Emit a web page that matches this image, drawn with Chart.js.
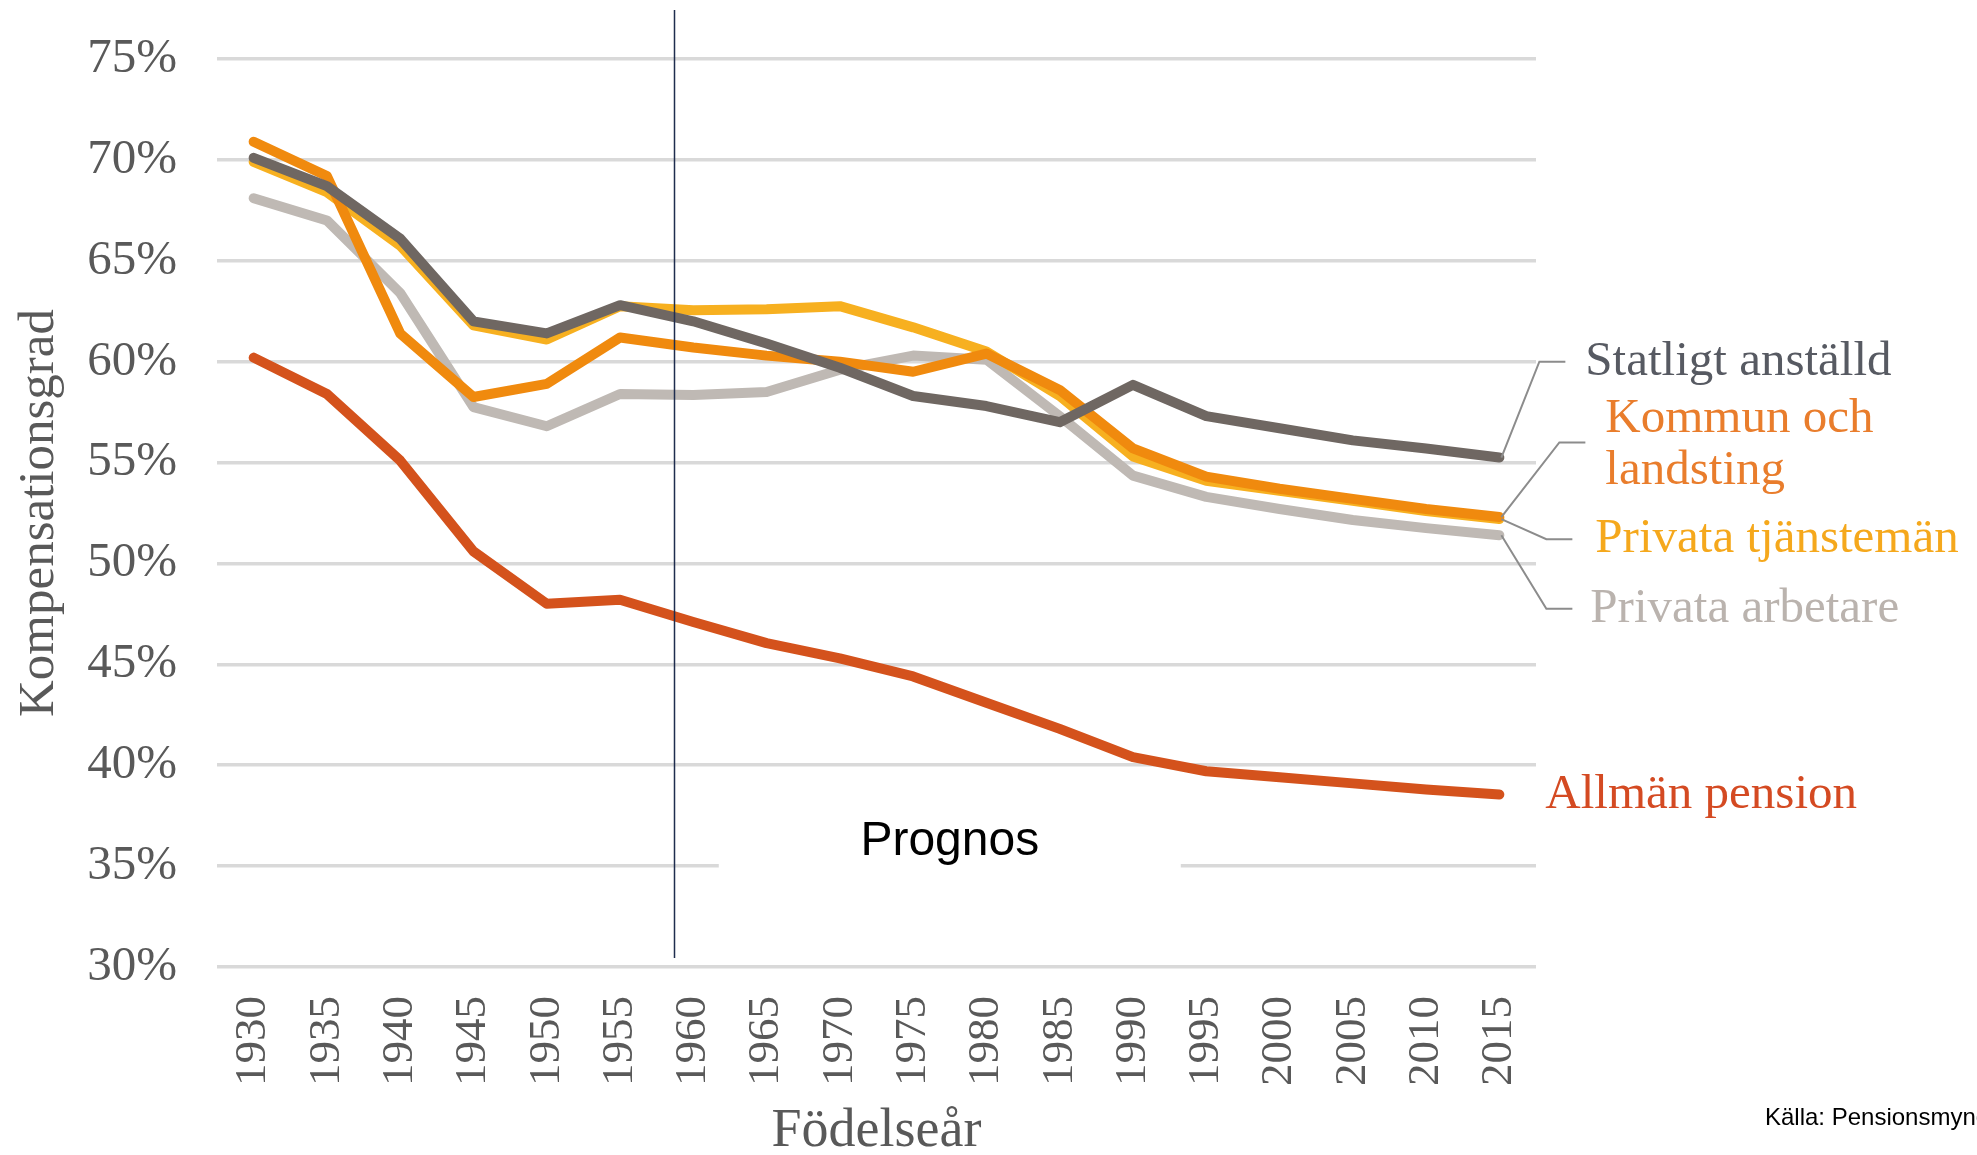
<!DOCTYPE html>
<html>
<head>
<meta charset="utf-8">
<script src="https://cdn.jsdelivr.net/npm/chart.js@4.4.0/dist/chart.umd.min.js"></script>
<style>
    html, body { margin: 0; padding: 0; background: #ffffff; }
    #contenedor { width: 1977px; height: 1155px; }
</style>
</head>
<body>
<div id="contenedor"><canvas id="grafico" width="1977" height="1155"></canvas></div>
<script>
// DATOS
const anios = ['1930', '1935', '1940', '1945', '1950', '1955', '1960', '1965', '1970',
               '1975', '1980', '1985', '1990', '1995', '2000', '2005', '2010', '2015'];

const statligtAnstalld = [70.1, 68.7, 66.1, 62.0, 61.4, 62.8, 62.0, 60.9, 59.7, 58.3, 57.8, 57.0, 58.85, 57.3, 56.7, 56.1, 55.7, 55.25];
const kommunLandsting  = [70.9, 69.2, 61.4, 58.25, 58.9, 61.2, 60.7, 60.3, 60.0, 59.5, 60.4, 58.6, 55.7, 54.3, 53.7, 53.2, 52.7, 52.3];
const privataTjanstem  = [69.9, 68.4, 65.75, 61.8, 61.1, 62.75, 62.55, 62.6, 62.75, 61.7, 60.5, 58.3, 55.3, 54.1, 53.6, 53.1, 52.6, 52.2];
const privataArbetare  = [68.1, 67.0, 63.4, 57.75, 56.8, 58.4, 58.35, 58.5, 59.6, 60.3, 60.1, 57.3, 54.35, 53.3, 52.7, 52.15, 51.75, 51.4];
const allmanPension    = [60.2, 58.4, 55.1, 50.6, 48.0, 48.2, 47.1, 46.05, 45.3, 44.4, 43.1, 41.8, 40.4, 39.7, 39.4, 39.1, 38.8, 38.55];

const nombresSeries = ['Statligt anställd', 'Kommun och landsting', 'Privata tjänstemän', 'Privata arbetare', 'Allmän pension'];
const ticksY = [30, 35, 40, 45, 50, 55, 60, 65, 70, 75];

// Inicio de la prognos (año de nacimiento) y posición del texto
const anioPrognos = 1958.7;
const textoPrognos = 'Prognos';
const posTextoPrognos = { anio: 1977.5, valor: 36.2 };
const fuente = 'Källa: Pensionsmyndigheten';

// Colores
const colLineas = ['#6f6762', '#f08a0e', '#f7b020', '#bfb9b4', '#d4521c'];
const colTextos = ['#575a62', '#e97d2c', '#f5a81c', '#bab3ae', '#d44a22'];

// Etiquetas a la derecha: líneas de texto, valor Y del texto, desplazamiento X, conector
const etiquetasDerecha = [
    { lineas: ['Statligt anställd'], valor: 60.0, dx: 86, codo: { dx: 40, valor: 60.0 } },
    { lineas: ['Kommun och', 'landsting'], valor: 57.15, dx: 106, codo: { dx: 60, valor: 56.0 } },
    { lineas: ['Privata tjänstemän'], valor: 51.2, dx: 96, codo: { dx: 47, valor: 51.2 } },
    { lineas: ['Privata arbetare'], valor: 47.75, dx: 91, codo: { dx: 47, valor: 47.75 } },
    { lineas: ['Allmän pension'], valor: 38.5, dx: 46, codo: null }
];

const serif = "'Liberation Serif', 'Times New Roman', serif";
const sans = "'Liberation Sans', Arial, sans-serif";

function indiceDeAnio(anio) {
    return (anio - parseInt(anios[0])) / 5;
}

// Plugin con los textos y la línea vertical
const extras = {
    id: 'extras',
    beforeDatasetsDraw(chart) {
        let ctx = chart.ctx;
        let ejeX = chart.scales.x;
        let ejeY = chart.scales.y;
        // hueco blanco en la línea del 35% detrás de "Prognos"
        ctx.save();
        ctx.font = '48px ' + sans;
        let cx = ejeX.getPixelForValue(indiceDeAnio(posTextoPrognos.anio));
        let cy = ejeY.getPixelForValue(posTextoPrognos.valor);
        ctx.fillStyle = '#ffffff';
        ctx.fillRect(cx - 231, ejeY.getPixelForValue(35) - 4, 462, 8);
        ctx.fillStyle = '#000000';
        ctx.textAlign = 'center';
        ctx.textBaseline = 'middle';
        ctx.fillText(textoPrognos, cx, cy);
        ctx.restore();
    },
    afterDatasetsDraw(chart) {
        let ctx = chart.ctx;
        let ejeX = chart.scales.x;
        let ejeY = chart.scales.y;
        ctx.save();

        // línea vertical de la prognos
        let xp = Math.round(ejeX.getPixelForValue(indiceDeAnio(anioPrognos))) + 0.5;
        ctx.strokeStyle = '#1f2d4e';
        ctx.lineWidth = 1.5;
        ctx.beginPath();
        ctx.moveTo(xp, 10);
        ctx.lineTo(xp, chart.chartArea.bottom - 9);
        ctx.stroke();

        // etiquetas de las series
        ctx.font = '49px ' + serif;
        ctx.textBaseline = 'middle';
        ctx.textAlign = 'left';
        for (let i = 0; i < etiquetasDerecha.length; i++) {
            let et = etiquetasDerecha[i];
            let meta = chart.getDatasetMeta(i);
            let ultimo = meta.data[meta.data.length - 1];
            if (et.codo != null) {
                let yc = ejeY.getPixelForValue(et.codo.valor);
                ctx.strokeStyle = '#8c8c8c';
                ctx.lineWidth = 2;
                ctx.beginPath();
                ctx.moveTo(ultimo.x + 2, ultimo.y);
                ctx.lineTo(ultimo.x + et.codo.dx, yc);
                ctx.lineTo(ultimo.x + et.codo.dx + 26, yc);
                ctx.stroke();
            }
            ctx.fillStyle = colTextos[i];
            let yt = ejeY.getPixelForValue(et.valor);
            for (let j = 0; j < et.lineas.length; j++) {
                ctx.fillText(et.lineas[j], ultimo.x + et.dx, yt + j * 52);
            }
        }

        // fuente
        ctx.font = '24px ' + sans;
        ctx.fillStyle = '#000000';
        ctx.fillText(fuente, 1765, 1118);
        ctx.restore();
    }
};

let series = [statligtAnstalld, kommunLandsting, privataTjanstem, privataArbetare, allmanPension];
let datasets = [];
for (let i = 0; i < series.length; i++) {
    datasets.push({
        label: nombresSeries[i],
        data: series[i],
        borderColor: colLineas[i],
        backgroundColor: colLineas[i]
    });
}

let ctx = document.getElementById('grafico').getContext('2d');
let miGrafico = new Chart(ctx, {
    type: 'line',
    data: {
        labels: anios,
        datasets: datasets
    },
    options: {
        responsive: false,
        animation: false,
        devicePixelRatio: 1,
        layout: { padding: { left: 0, right: 441, top: 59, bottom: 0 } },
        plugins: {
            legend: { display: false },
            tooltip: { enabled: false }
        },
        elements: {
            point: { radius: 0 },
            line: { borderWidth: 10, tension: 0, borderCapStyle: 'round', borderJoinStyle: 'round' }
        },
        scales: {
            x: {
                offset: true,
                grid: { display: false, drawTicks: false },
                border: { display: false },
                ticks: {
                    autoSkip: false,
                    minRotation: 90,
                    maxRotation: 90,
                    padding: 29,
                    color: '#595959',
                    font: { family: serif, size: 45 }
                },
                title: {
                    display: true,
                    text: 'Födelseår',
                    color: '#595959',
                    font: { family: serif, size: 54, lineHeight: 0.85 },
                    padding: 0
                },
                afterFit: function(scale) { scale.height = 1155 - 967; }
            },
            y: {
                min: 30,
                max: 75,
                afterBuildTicks: function(scale) {
                    scale.ticks = ticksY.map(function(v) { return { value: v }; });
                },
                grid: { color: '#d9d9d9', lineWidth: 3.5, drawTicks: false },
                border: { display: false },
                ticks: {
                    padding: 40,
                    color: '#595959',
                    font: { family: serif, size: 49 },
                    callback: function(v) { return v + '%'; }
                },
                title: {
                    display: true,
                    text: 'Kompensationsgrad',
                    color: '#595959',
                    font: { family: serif, size: 51 },
                    padding: { top: 9, bottom: 0 }
                },
                afterFit: function(scale) {
                    scale.width = 217;
                    // que el relleno de las etiquetas no empuje el área del gráfico
                    scale.paddingTop = 0;
                    scale.paddingBottom = 0;
                }
            }
        }
    },
    plugins: [extras]
});
</script>
</body>
</html>
